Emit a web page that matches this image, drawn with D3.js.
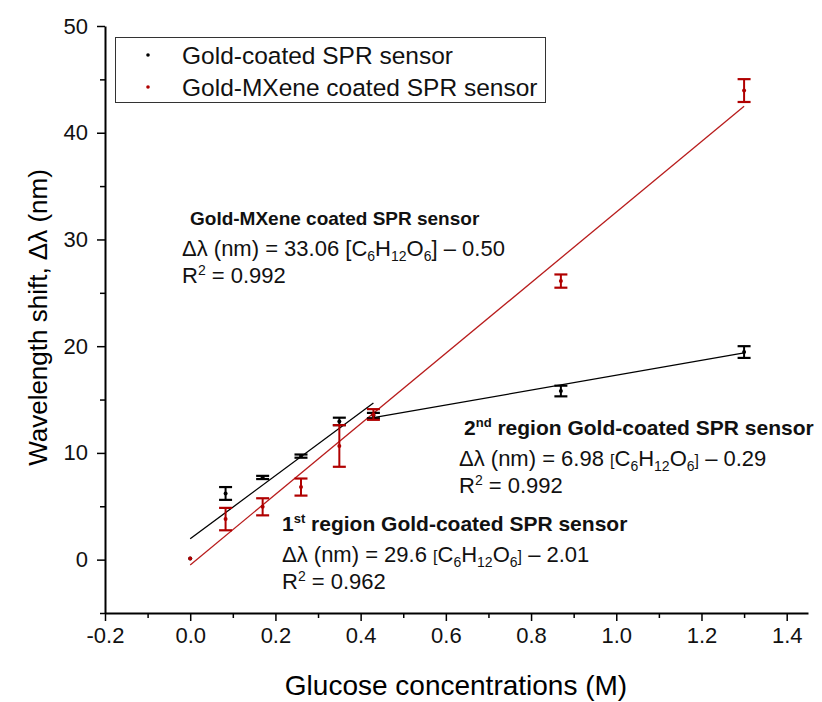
<!DOCTYPE html>
<html>
<head>
<meta charset="utf-8">
<script src="https://cdn.jsdelivr.net/npm/d3@7"></script>
<style>
  body { margin: 0; background: #fff; }
  svg text { font-family: "Liberation Sans", Arial, sans-serif; }
</style>
</head>
<body>
<script>
// glucose concentrations (M)
const conc = [0, 0.083, 0.17, 0.26, 0.35, 0.43, 0.87, 1.30];
// wavelength shift (nm) and error
const goldShift = [0.1, 6.2, 7.7, 9.7, 12.95, 13.5, 15.8, 19.45];
const goldErr = [0, 0.6, 0.15, 0.15, 0.35, 0.25, 0.5, 0.55];
const mxeneShift = [0.1, 3.8, 4.95, 6.8, 10.65, 13.6, 26.1, 43.95];
const mxeneErr = [0, 1.05, 0.8, 0.8, 1.95, 0.5, 0.62, 1.07];

// fitted lines as drawn
const fitSlope = [29.6, 6.98, 33.06];
const fitIntercept = [1.95, 10.3, -0.5];
const fitFrom = [0, 0.43, 0];
const fitTo = [0.43, 1.30, 1.30];
const fitColor = ["#000", "#000", "#b81c1c"];

const xTicks = [-0.2, 0, 0.2, 0.4, 0.6, 0.8, 1.0, 1.2, 1.4];
const xMinor = [-0.1, 0.1, 0.3, 0.5, 0.7, 0.9, 1.1, 1.3];
const yTicks = [0, 10, 20, 30, 40, 50];
const yMinor = [-5, 5, 15, 25, 35, 45];

const legendLabels = ["Gold-coated SPR sensor", "Gold-MXene coated SPR sensor"];
const red = "#b00000";

const W = 822, H = 702;
const x = d3.scaleLinear().domain([-0.2, 1.45]).range([105, 808]);
const y = d3.scaleLinear().domain([-5, 50]).range([613, 26]);

const svg = d3.select("body").append("svg")
    .attr("width", W).attr("height", H);

// axes
const fmt = d => d3.format(".1f")(d).replace("−", "-");
const xAxis = svg.append("g").attr("transform", `translate(0,${y(-5)})`)
    .call(d3.axisBottom(x).tickValues(xTicks).tickSize(8).tickPadding(6)
        .tickFormat(fmt).tickSizeOuter(0));
svg.append("g").attr("transform", `translate(0,${y(-5)})`)
    .call(d3.axisBottom(x).tickValues(xMinor).tickSize(5).tickFormat("").tickSizeOuter(0))
    .select(".domain").remove();

const yAxis = svg.append("g").attr("transform", `translate(${x(-0.2)},0)`)
    .call(d3.axisLeft(y).tickValues(yTicks).tickSize(8).tickPadding(9).tickSizeOuter(0));
svg.append("g").attr("transform", `translate(${x(-0.2)},0)`)
    .call(d3.axisLeft(y).tickValues(yMinor).tickSize(5).tickFormat("").tickSizeOuter(0))
    .select(".domain").remove();

svg.selectAll(".domain").attr("stroke-width", 2);
svg.selectAll(".tick line").attr("stroke-width", 1.5);
svg.selectAll(".tick text").attr("font-size", 22).attr("fill", "#111")
    .style("font-family", "'Liberation Sans', Arial, sans-serif");

// axis titles
svg.append("text")
    .attr("x", 456).attr("y", 695)
    .attr("text-anchor", "middle").attr("font-size", 28)
    .text("Glucose concentrations (M)");
svg.append("text")
    .attr("transform", `translate(47,${(y(-5) + y(50)) / 2 - 2}) rotate(-90)`)
    .attr("text-anchor", "middle").attr("font-size", 26)
    .text("Wavelength shift, Δλ (nm)");

// fit lines
const fits = fitSlope.map((m, i) => ({ m, b: fitIntercept[i], x0: fitFrom[i], x1: fitTo[i], c: fitColor[i] }));
svg.append("g").selectAll("line").data(fits).join("line")
    .attr("x1", d => x(d.x0)).attr("y1", d => y(d.m * d.x0 + d.b))
    .attr("x2", d => x(d.x1)).attr("y2", d => y(d.m * d.x1 + d.b))
    .attr("stroke", d => d.c).attr("stroke-width", 1.3);

// error bars and points
function drawSeries(vals, errs, color) {
    const data = conc.map((c, i) => ({ c, v: vals[i], e: errs[i] }));
    const g = svg.append("g").attr("stroke", color).attr("fill", color);
    const eb = data.filter(d => d.e > 0);
    g.selectAll(".v").data(eb).join("line")
        .attr("x1", d => x(d.c)).attr("x2", d => x(d.c))
        .attr("y1", d => y(d.v - d.e)).attr("y2", d => y(d.v + d.e))
        .attr("stroke-width", 2);
    g.selectAll(".t").data(eb).join("line")
        .attr("x1", d => x(d.c) - 6.5).attr("x2", d => x(d.c) + 6.5)
        .attr("y1", d => y(d.v + d.e)).attr("y2", d => y(d.v + d.e))
        .attr("stroke-width", 2.2);
    g.selectAll(".b").data(eb).join("line")
        .attr("x1", d => x(d.c) - 6.5).attr("x2", d => x(d.c) + 6.5)
        .attr("y1", d => y(d.v - d.e)).attr("y2", d => y(d.v - d.e))
        .attr("stroke-width", 2.2);
    g.selectAll("circle").data(data).join("circle")
        .attr("cx", d => x(d.c)).attr("cy", d => y(d.v))
        .attr("r", 2).attr("stroke", "none");
}
drawSeries(goldShift, goldErr, "#000");
drawSeries(mxeneShift, mxeneErr, red);

// legend
svg.append("rect")
    .attr("x", 115.5).attr("y", 37.5).attr("width", 430).attr("height", 65)
    .attr("fill", "#fff").attr("stroke", "#333").attr("stroke-width", 1);
const leg = svg.append("g").selectAll("g").data(legendLabels).join("g")
    .attr("transform", (d, i) => `translate(0,${55 + i * 32})`);
leg.append("circle").attr("cx", 148).attr("cy", 0).attr("r", 1.8)
    .attr("fill", (d, i) => i ? red : "#000");
leg.append("text").attr("x", 182).attr("y", 8.5).attr("font-size", 24.5)
    .attr("fill", "#111").text(d => d);

// annotations
function annotate(x0, dx, yb, bsize, bold, sup, eqParts, r2, smallBracket) {
    const t = svg.append("text").attr("x", x0 + dx).attr("y", yb).attr("font-size", bsize)
        .attr("font-weight", "bold").attr("fill", "#111");
    t.append("tspan").text(bold[0]);
    if (sup) t.append("tspan").attr("font-size", 13).attr("dy", -8).text(sup);
    t.append("tspan").attr("dy", sup ? 8 : 0).text(bold[1]);

    const e = svg.append("text").attr("x", x0).attr("y", yb + 31).attr("font-size", 22).attr("fill", "#111");
    const bs = smallBracket ? 16 : 22;
    e.append("tspan").text(eqParts[0] + " ");
    e.append("tspan").attr("font-size", bs).text("[");
    e.append("tspan").text("C");
    e.append("tspan").attr("font-size", 14).attr("dy", 5).text("6");
    e.append("tspan").attr("dy", -5).text("H");
    e.append("tspan").attr("font-size", 14).attr("dy", 5).text("12");
    e.append("tspan").attr("dy", -5).text("O");
    e.append("tspan").attr("font-size", 14).attr("dy", 5).text("6");
    e.append("tspan").attr("font-size", bs).attr("dy", -5).text("]");
    e.append("tspan").text(" – " + eqParts[1]);

    const r = svg.append("text").attr("x", x0).attr("y", yb + 58).attr("font-size", 22).attr("fill", "#111");
    r.append("tspan").text("R");
    r.append("tspan").attr("font-size", 14).attr("dy", -8).text("2");
    r.append("tspan").attr("dy", 8).text(" = " + r2);
}
annotate(182, 8, 225, 19, ["Gold-MXene coated SPR sensor", ""], null, ["Δλ (nm) = 33.06", "0.50"], "0.992", false);
annotate(459, 5, 435, 21, ["2", " region Gold-coated SPR sensor"], "nd", ["Δλ (nm) = 6.98", "0.29"], "0.992", true);
annotate(282, 0, 531, 21, ["1", " region Gold-coated SPR sensor"], "st", ["Δλ (nm) = 29.6", "2.01"], "0.962", true);
</script>
</body>
</html>
